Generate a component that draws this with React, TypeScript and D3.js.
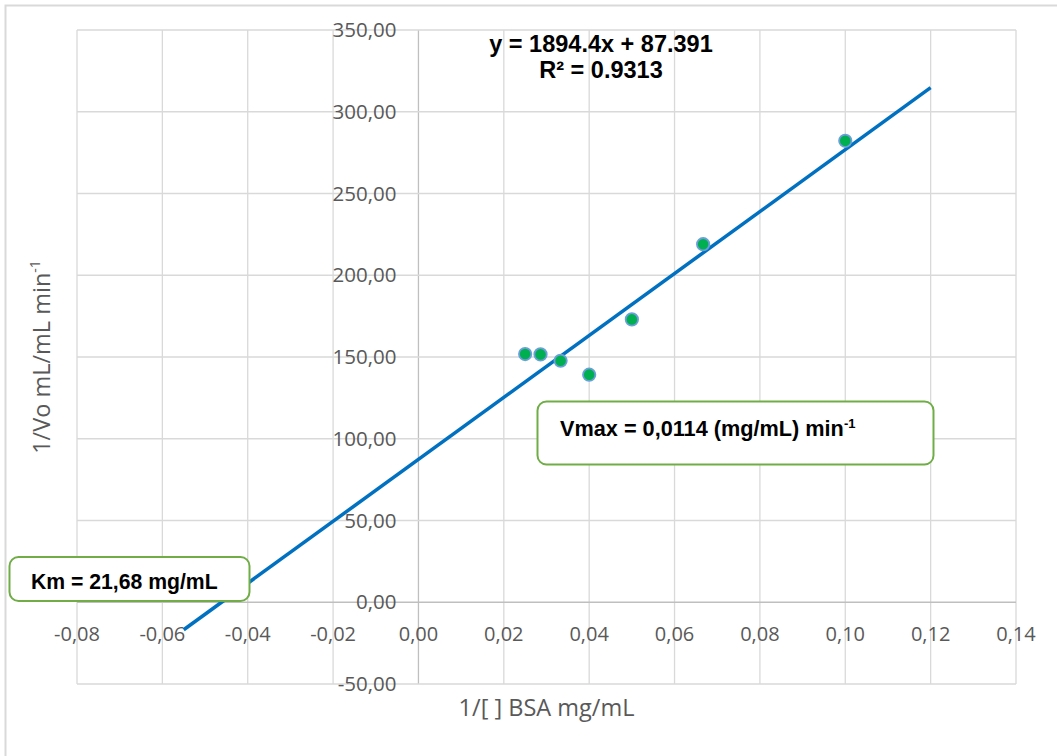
import React from "react";
import * as d3 from "d3";

// ---- data ----
const xTicks = [-0.08, -0.06, -0.04, -0.02, 0, 0.02, 0.04, 0.06, 0.08, 0.1, 0.12, 0.14];
const yTicks = [-50, 0, 50, 100, 150, 200, 250, 300, 350];
const pointsX = [0.025, 0.0286, 0.0333, 0.04, 0.05, 0.0667, 0.1];
const pointsY = [151.8, 151.6, 147.7, 139.2, 173.0, 219.0, 282.2];
const trendSlope = 1894.4;
const trendIntercept = 87.391;
const trendRange = [-0.055, 0.12];
const equationLines = ["y = 1894.4x + 87.391", "R² = 0.9313"];
const xTitle = "1/[ ] BSA mg/mL";
const vmaxText = "Vmax = 0,0114 (mg/mL) min";
const kmText = "Km = 21,68 mg/mL";

const W = 1057;
const H = 756;
const plot = { left: 77, right: 1016, top: 30, bottom: 684 };

const fmt = (v: number) => {
  const s = Math.abs(v).toFixed(2).replace(".", ",");
  return (v < -1e-9 ? "-" : "") + s;
};

export default function App() {
  const x = d3.scaleLinear().domain([-0.08, 0.14]).range([plot.left, plot.right]);
  const y = d3.scaleLinear().domain([-50, 350]).range([plot.bottom, plot.top]);
  const line = d3
    .line<number>()
    .x((d) => x(d))
    .y((d) => y(trendSlope * d + trendIntercept));

  const tickFont = "'Open Sans', sans-serif";
  const boldFont = "'Liberation Sans', Arial, sans-serif";
  const grey = "#595959";

  return (
    <svg
      width={W}
      height={H}
      style={{ position: "absolute", left: 0, top: 0, background: "#fff" }}
    >
      <rect x={5.5} y={5.5} width={1062} height={762} fill="#fff" stroke="#d9d9d9" strokeWidth={2} />
      {/* grid */}
      {xTicks.map((t) => (
        <line key={"gx" + t} x1={x(t)} x2={x(t)} y1={plot.top} y2={plot.bottom} stroke={t === 0 ? "#bfbfbf" : "#d9d9d9"} strokeWidth={1.3} />
      ))}
      {yTicks.map((t) => (
        <line key={"gy" + t} x1={plot.left} x2={plot.right} y1={y(t)} y2={y(t)} stroke={t === 0 ? "#bfbfbf" : "#d9d9d9"} strokeWidth={1.3} />
      ))}
      {/* tick labels */}
      {yTicks.map((t) => (
        <text key={"ly" + t} x={x(0) - 22} y={y(t)} dy="0.35em" textAnchor="end" fontFamily={tickFont} fontSize={20.5} fill={grey}>
          {fmt(t)}
        </text>
      ))}
      {xTicks.map((t) => (
        <text key={"lx" + t} x={x(t)} y={y(0) + 32} dy="0.35em" textAnchor="middle" fontFamily={tickFont} fontSize={20} fill={grey}>
          {fmt(t)}
        </text>
      ))}
      {/* axis titles */}
      <text x={(plot.left + plot.right) / 2} y={716} textAnchor="middle" fontFamily={tickFont} fontSize={23.5} fill={grey}>
        {xTitle}
      </text>
      <text transform={`translate(50, ${(plot.top + plot.bottom) / 2}) rotate(-90)`} textAnchor="middle" fontFamily={tickFont} fontSize={23.5} fill={grey}>
        1/Vo mL/mL min<tspan dy={-10} fontSize={14}>-1</tspan>
      </text>
      {/* trendline */}
      <path d={line(trendRange) || ""} fill="none" stroke="#0070C0" strokeWidth={3.5} />
      {/* points */}
      {pointsX.map((px, i) => (
        <circle key={"p" + i} cx={x(px)} cy={y(pointsY[i])} r={6.2} fill="#00B050" stroke="#6A9FDA" strokeWidth={1.8} />
      ))}
      {/* equation */}
      {equationLines.map((s, i) => (
        <text key={"eq" + i} x={601} y={52 + i * 26} textAnchor="middle" fontFamily={boldFont} fontWeight="bold" fontSize={23.5} fill="#000">
          {s}
        </text>
      ))}
      {/* Vmax box */}
      <rect x={537.5} y={401.5} width={396} height={63} rx={9} fill="#fff" stroke="#70AD47" strokeWidth={2} />
      <text x={560} y={436} fontFamily={boldFont} fontWeight="bold" fontSize={21.7} fill="#000">
        {vmaxText}
        <tspan dy={-8} fontSize={13}>-1</tspan>
      </text>
      {/* Km box */}
      <rect x={9.5} y={557} width={240} height={44} rx={9} fill="#fff" stroke="#70AD47" strokeWidth={2} />
      <text x={31} y={589} fontFamily={boldFont} fontWeight="bold" fontSize={21.2} fill="#000">
        {kmText}
      </text>
    </svg>
  );
}
